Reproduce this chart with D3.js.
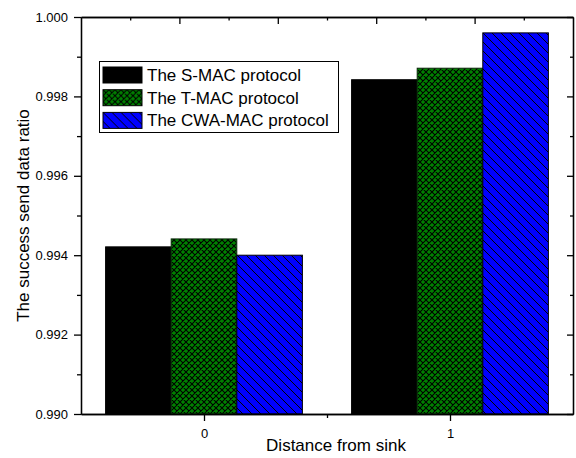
<!DOCTYPE html>
<html>
<head>
<meta charset="utf-8">
<script src="https://cdn.jsdelivr.net/npm/d3@7"></script>
<style>
  body { margin: 0; background: #fff; }
  svg { display: block; font-family: Arial, "Liberation Sans", sans-serif; }
</style>
</head>
<body>
<svg id="svg" width="576" height="458"></svg>
<script>
// data
var groups = [0, 1];
var series = ["The S-MAC protocol", "The T-MAC protocol", "The CWA-MAC protocol"];
var smac = [0.99421, 0.99842];
var tmac = [0.99441, 0.99871];
var cwamac = [0.99400, 0.99960];
var values = [smac, tmac, cwamac];

var yMajor = [0.990, 0.992, 0.994, 0.996, 0.998, 1.000];
var yMinor = [0.991, 0.993, 0.995, 0.997, 0.999];
var xMajor = [0, 1];
var xMinor = [0.5];
var topMajor = [-0.1, 0.3, 0.7, 1.1];
var topMinor = [-0.3, 0.1, 0.5, 0.9, 1.3];

var svg = d3.select("#svg");
// plot box (note: "top" is taken by window.top, so use pTop etc)
var pLeft = 81, pRight = 573, pTop = 17, pBottom = 414;

var x = d3.scaleLinear().domain([-0.5, 1.5]).range([pLeft, pRight]);
var y = d3.scaleLinear().domain([0.990, 1.000]).range([pBottom, pTop]);
// offset of each series inside a group (in x units)
var inner = d3.scaleBand().domain(series).range([-0.4, 0.4]);

// patterns
var defs = svg.append("defs");
var ch = defs.append("pattern").attr("id", "cross")
  .attr("patternUnits", "userSpaceOnUse").attr("width", 6).attr("height", 6);
ch.append("rect").attr("width", 6).attr("height", 6).attr("fill", "#008000");
ch.append("path")
  .attr("d", "M0,0L6,6M6,0L0,6M5,-1L7,1M-1,5L1,7M-1,1L1,-1M5,7L7,5")
  .attr("stroke", "#000").attr("stroke-width", 1.05);

var hb = defs.append("pattern").attr("id", "hatch")
  .attr("patternUnits", "userSpaceOnUse").attr("width", 9).attr("height", 9);
hb.append("rect").attr("width", 9).attr("height", 9).attr("fill", "#0000ff");
hb.append("path")
  .attr("d", "M0,0L9,9M-1,8L1,10M8,-1L10,1")
  .attr("stroke", "#000").attr("stroke-width", 1);

var fills = ["#000000", "url(#cross)", "url(#hatch)"];
var strokes = ["#000", "#0a2a0a", "#000"];

// bars
var rows = [];
series.forEach(function(s, si){
  groups.forEach(function(g, gi){
    rows.push({s: s, si: si, g: g, v: values[si][gi]});
  });
});

svg.append("g").selectAll("rect").data(rows).enter().append("rect")
  .attr("x", function(d){ return x(d.g + inner(d.s)); })
  .attr("width", function(d){ return x(d.g + inner(d.s) + inner.bandwidth()) - x(d.g + inner(d.s)); })
  .attr("y", function(d){ return y(d.v); })
  .attr("height", function(d){ return y(0.990) - y(d.v); })
  .attr("fill", function(d){ return fills[d.si]; })
  .attr("stroke", function(d){ return strokes[d.si]; })
  .attr("stroke-width", 1);

// axes
var fmt = d3.format(".3f");
function styleAxis(g){
  g.attr("font-size", 13).attr("font-family", "Arial, 'Liberation Sans', sans-serif");
  g.selectAll("path").attr("stroke", "#000").attr("stroke-width", 1.3);
  g.selectAll("line").attr("stroke", "#000").attr("stroke-width", 1.3);
  g.selectAll("text").attr("fill", "#000");
}

svg.append("g").attr("transform", "translate(" + pLeft + ",0)")
  .call(d3.axisLeft(y).tickValues(yMajor).tickFormat(fmt).tickSize(7).tickPadding(6).tickSizeOuter(0))
  .call(styleAxis);
svg.append("g").attr("transform", "translate(" + pLeft + ",0)")
  .call(d3.axisLeft(y).tickValues(yMinor).tickFormat("").tickSize(4).tickSizeOuter(0))
  .call(styleAxis);

svg.append("g").attr("transform", "translate(" + pRight + ",0)")
  .call(d3.axisLeft(y).tickValues(yMajor).tickFormat("").tickSize(6).tickSizeOuter(0))
  .call(styleAxis);
svg.append("g").attr("transform", "translate(" + pRight + ",0)")
  .call(d3.axisLeft(y).tickValues(yMinor).tickFormat("").tickSize(3).tickSizeOuter(0))
  .call(styleAxis);

svg.append("g").attr("transform", "translate(0," + pBottom + ")")
  .call(d3.axisBottom(x).tickValues(xMajor).tickFormat(d3.format("d")).tickSize(7).tickPadding(8).tickSizeOuter(0))
  .call(styleAxis);
svg.append("g").attr("transform", "translate(0," + pBottom + ")")
  .call(d3.axisBottom(x).tickValues(xMinor).tickFormat("").tickSize(4).tickSizeOuter(0))
  .call(styleAxis);

svg.append("g").attr("transform", "translate(0," + pTop + ")")
  .call(d3.axisBottom(x).tickValues(topMajor).tickFormat("").tickSize(7).tickSizeOuter(0))
  .call(styleAxis);
svg.append("g").attr("transform", "translate(0," + pTop + ")")
  .call(d3.axisBottom(x).tickValues(topMinor).tickFormat("").tickSize(3.5).tickSizeOuter(0))
  .call(styleAxis);

// axis titles
svg.append("text")
  .attr("x", 336).attr("y", 451)
  .attr("text-anchor", "middle").style("font-size", "17px")
  .text("Distance from sink");
svg.append("text")
  .attr("transform", "translate(29," + ((pTop + pBottom) / 2) + ") rotate(-90)")
  .attr("text-anchor", "middle").style("font-size", "17px")
  .text("The success send data ratio");

// legend
var leg = svg.append("g");
leg.append("rect").attr("x", 99.5).attr("y", 61.5).attr("width", 239).attr("height", 71)
  .attr("fill", "#fff").attr("stroke", "#000").attr("stroke-width", 1);
var items = leg.selectAll("g.item").data(series).enter().append("g")
  .attr("transform", function(d, i){ return "translate(103," + (67 + i * 22.7) + ")"; });
items.append("rect").attr("width", 39).attr("height", 16)
  .attr("fill", function(d, i){ return fills[i]; })
  .attr("stroke", "#000").attr("stroke-width", 1);
items.append("text").attr("x", 44).attr("y", 14)
  .style("font-size", "17px")
  .text(function(d){ return d; });
</script>
</body>
</html>
